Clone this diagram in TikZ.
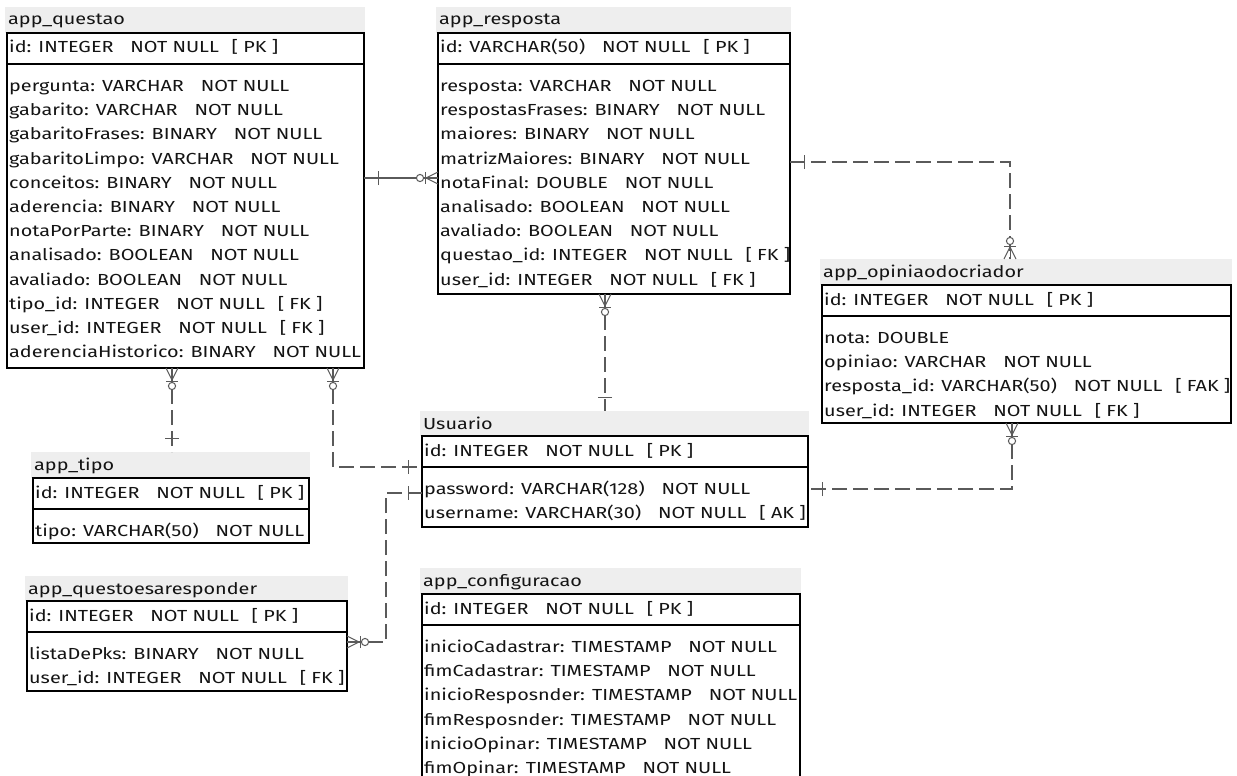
\documentclass[tikz,border=0pt]{standalone}
\usepackage{fontspec}
\setmainfont[FakeStretch=1.24]{Fira Sans}
\definecolor{bandgray}{HTML}{EEEEEE}
\definecolor{relgray}{HTML}{5A5A5A}
\definecolor{ink}{HTML}{141414}
\newcommand\gp{\hspace{1.05em}}
\newcommand\gq{\hspace{0.8em}}
\tikzset{
  tbl/.style={draw=black, line width=1.2pt, anchor=north west, inner sep=0pt, outer sep=0pt},
  band/.style={fill=bandgray, draw=none, anchor=north west, inner sep=0pt, outer sep=0pt},
  ttl/.style={anchor=base west, inner sep=0pt, font=\fontsize{16}{16}\selectfont, text=ink},
  row/.style={anchor=base west, inner sep=0pt, font=\fontsize{16}{16}\selectfont, text=ink},
  sepline/.style={draw=black, line width=1.2pt},
  rel/.style={draw=relgray, line width=1.3pt},
  dsh/.style={rel, dash pattern=on 15pt off 6pt},
  tip/.style={draw=relgray, line width=1pt},
}
% #1 name, #2 left, #3 right, #4 band top, #5 box top, #6 box bottom,
% #7 title, #8 key row, #9 field rows
\newcommand\ertable[9]{%
  \node[band, minimum width={(#3-#2+3)*1pt}, minimum height={(#5-#4)*1pt}]
    (#1-head) at ({#2-2},{-(#4)}) {};
  \node[ttl] (#1-title) at ({#2+1},{-(#4+18)}) {#7};
  \node[tbl, minimum width={(#3-#2)*1pt}, minimum height={(#6-#5)*1pt}]
    (#1) at ({#2},{-(#5)}) {};
  \draw[sepline] ({#2},{-(#5+31)}) -- ({#3},{-(#5+31)});
  \node[row] (#1-id) at ({#2+2},{-(#5+20)}) {#8};
  \foreach \t [count=\i from 0] in {#9}
    \node[row] (#1-r\i) at ({#2+2},{-(#5+58.5+\i*24.2)}) {\t};
}
% zero-or-many end: prongs on the table edge, bar and ring further out
\newcommand\crowfoot[2]{%
  \begin{scope}[shift={(#1)}, rotate=#2]
    \draw[tip] (0,6) -- (12,0) -- (0,-6);
    \draw[tip] (0,0) -- (12,0);
    \draw[tip] (13,-6) -- (13,6);
    \draw[tip, fill=white] (18,0) circle (3.6);
  \end{scope}}
% exactly-one end: a single bar across the line
\newcommand\onebar[2]{%
  \begin{scope}[shift={(#1)}, rotate=#2]
    \draw[tip] (14,-7) -- (14,7);
  \end{scope}}

\begin{document}
\begin{tikzpicture}[x=1pt, y=1pt]
\useasboundingbox[fill=white] (0,0) rectangle (1237,-776);

\ertable{questao}{7}{364}{7}{33}{368}{app\_questao}
  {id: INTEGER\gp NOT NULL\gq [ PK ]}
  {pergunta: VARCHAR\gp NOT NULL,
   gabarito: VARCHAR\gp NOT NULL,
   gabaritoFrases: BINARY\gp NOT NULL,
   gabaritoLimpo: VARCHAR\gp NOT NULL,
   conceitos: BINARY\gp NOT NULL,
   aderencia: BINARY\gp NOT NULL,
   notaPorParte: BINARY\gp NOT NULL,
   analisado: BOOLEAN\gp NOT NULL,
   avaliado: BOOLEAN\gp NOT NULL,
   tipo\_id: INTEGER\gp NOT NULL\gq [ FK ],
   user\_id: INTEGER\gp NOT NULL\gq [ FK ],
   aderenciaHistorico: BINARY\gp NOT NULL}

\ertable{resposta}{438}{790}{7}{33}{294}{app\_resposta}
  {id: VARCHAR(50)\gp NOT NULL\gq [ PK ]}
  {resposta: VARCHAR\gp NOT NULL,
   respostasFrases: BINARY\gp NOT NULL,
   maiores: BINARY\gp NOT NULL,
   matrizMaiores: BINARY\gp NOT NULL,
   notaFinal: DOUBLE\gp NOT NULL,
   analisado: BOOLEAN\gp NOT NULL,
   avaliado: BOOLEAN\gp NOT NULL,
   questao\_id: INTEGER\gp NOT NULL\gq [ FK ],
   user\_id: INTEGER\gp NOT NULL\gq [ FK ]}

\ertable{opiniao}{822}{1231}{259}{285}{423}{app\_opiniaodocriador}
  {id: INTEGER\gp NOT NULL\gq [ PK ]}
  {nota: DOUBLE,
   opiniao: VARCHAR\gp NOT NULL,
   resposta\_id: VARCHAR(50)\gp NOT NULL\gq [ FAK ],
   user\_id: INTEGER\gp NOT NULL\gq [ FK ]}

\ertable{usuario}{422}{808}{411}{436}{527}{Usuario}
  {id: INTEGER\gp NOT NULL\gq [ PK ]}
  {password: VARCHAR(128)\gp NOT NULL,
   username: VARCHAR(30)\gp NOT NULL\gq [ AK ]}

\ertable{tipo}{33}{309}{452}{478}{543}{app\_tipo}
  {id: INTEGER\gp NOT NULL\gq [ PK ]}
  {tipo: VARCHAR(50)\gp NOT NULL}

\ertable{qar}{27}{347}{576}{601}{691}{app\_questoesaresponder}
  {id: INTEGER\gp NOT NULL\gq [ PK ]}
  {listaDePks: BINARY\gp NOT NULL,
   user\_id: INTEGER\gp NOT NULL\gq [ FK ]}

\ertable{config}{422}{800}{568}{594}{800}{app\_configuracao}
  {id: INTEGER\gp NOT NULL\gq [ PK ]}
  {inicioCadastrar: TIMESTAMP\gp NOT NULL,
   fimCadastrar: TIMESTAMP\gp NOT NULL,
   inicioResposnder: TIMESTAMP\gp NOT NULL,
   fimResposnder: TIMESTAMP\gp NOT NULL,
   inicioOpinar: TIMESTAMP\gp NOT NULL,
   fimOpinar: TIMESTAMP\gp NOT NULL}

% relationship end points
\coordinate (e1a) at ([yshift=-145pt]questao.north east);
\coordinate (e1b) at ([yshift=-145pt]resposta.north west);
\coordinate (e2a) at ([xshift=165pt]questao.south west);
\coordinate (e2b) at (e2a |- tipo-head.north);
\coordinate (e3a) at ([xshift=326pt]questao.south west);
\coordinate (e3b) at ([yshift=-31pt]usuario.north west);
\coordinate (e4a) at ([yshift=-41pt]qar.north east);
\coordinate (e4m) at ([xshift=39pt]e4a);
\coordinate (e4b) at ([yshift=-57pt]usuario.north west);
\coordinate (e5a) at ([yshift=-129pt]resposta.north east);
\coordinate (e5b) at ([xshift=190pt]opiniao-head.north west);
\coordinate (e6a) at ([xshift=167pt]resposta.south west);
\coordinate (e6b) at (e6a |- usuario-head.north);
\coordinate (e7a) at ([xshift=190pt]opiniao.south west);
\coordinate (e7b) at ([yshift=-53pt]usuario.north east);

% relationship lines
\draw[rel] (e1a) -- (e1b);
\draw[dsh] (e2a) -- (e2b);
\draw[dsh] (e3a) |- (e3b);
\draw[dsh] (e4a) -- (e4m) |- (e4b);
\draw[dsh] (e5a) -| (e5b);
\draw[dsh] (e6a) -- (e6b);
\draw[dsh] (e7a) |- (e7b);

% cardinality marks
\onebar{e1a}{0}      \crowfoot{e1b}{180}
\crowfoot{e2a}{-90}  \onebar{e2b}{90}
\crowfoot{e3a}{-90}  \onebar{e3b}{180}
\crowfoot{e4a}{0}    \onebar{e4b}{180}
\onebar{e5a}{0}      \crowfoot{e5b}{90}
\crowfoot{e6a}{-90}  \onebar{e6b}{90}
\crowfoot{e7a}{-90}  \onebar{e7b}{0}
\end{tikzpicture}
\end{document}
